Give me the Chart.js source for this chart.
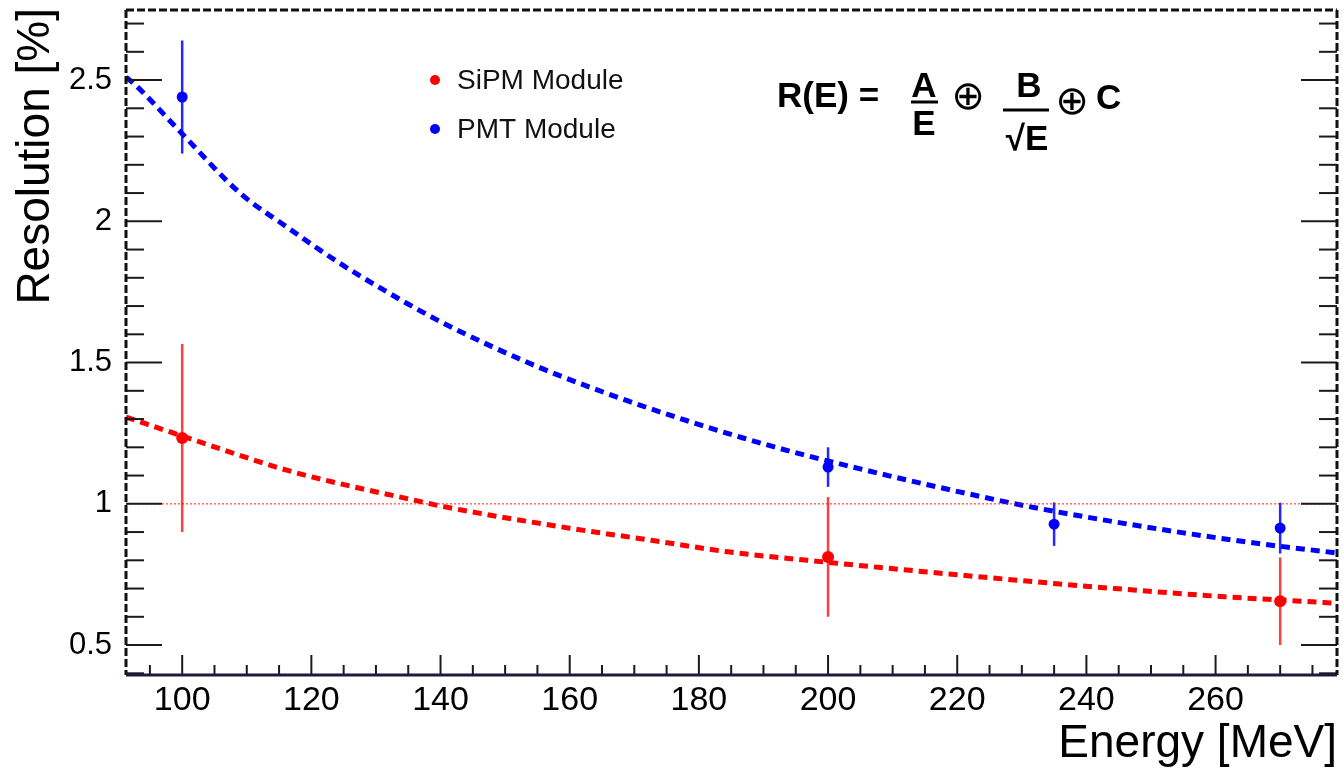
<!DOCTYPE html>
<html>
<head>
<meta charset="utf-8">
<script src="https://cdn.jsdelivr.net/npm/chart.js@4.4.1/dist/chart.umd.min.js"></script>
<style>
  html, body { margin: 0; padding: 0; background: #fff; }
</style>
</head>
<body>
<canvas id="resChart" width="1343" height="772"></canvas>
<script>
// measured points (energy in MeV, resolution in %)
const sipmE = [100, 200, 270];
const sipmRes = [1.233, 0.812, 0.655];
const sipmErr = [0.333, 0.212, 0.155];

const pmtE = [100, 200, 235, 270];
const pmtRes = [2.44, 1.13, 0.928, 0.914];
const pmtErr = [0.2, 0.07, 0.077, 0.09];

// fit curves
const sipmFitE = [91.3, 100, 116.2, 126.0, 135.9, 140.5, 160.2, 172.6, 184.5, 196.8, 227.6, 243.9, 261.4, 276.7, 278.8];
const sipmFitR = [1.307, 1.24, 1.119, 1.063, 1.013, 0.99, 0.913, 0.871, 0.830, 0.80, 0.733, 0.701, 0.671, 0.651, 0.648];

const pmtFitE = [91.3, 92.5, 99.7, 109.0, 116.0, 124.3, 130.6, 139.3, 148.2, 157.3, 168.9, 178.2, 187.0, 196.3, 227.9, 240.3, 254.8, 267.1, 278.8];
const pmtFitR = [2.51, 2.488, 2.317, 2.099, 1.983, 1.853, 1.765, 1.653, 1.554, 1.464, 1.365, 1.294, 1.232, 1.173, 1.005, 0.952, 0.898, 0.858, 0.826];

const xTicks = [100, 120, 140, 160, 180, 200, 220, 240, 260];
const yTicks = [0.5, 1, 1.5, 2, 2.5];
const xRange = [91.3, 278.8];
const yRange = [0.394, 2.748];
const refLevel = 1;

const seriesNames = ['SiPM Module', 'PMT Module'];
const xTitle = 'Energy [MeV]';
const yTitle = 'Resolution [%]';
const RED = '#ff0000';
const BLUE = '#0000ff';
const FONT = '"Liberation Sans", Arial, sans-serif';

function toXY(xs, ys) {
  return xs.map((v, i) => ({ x: v, y: ys[i] }));
}

function line(ctx, x1, y1, x2, y2) {
  ctx.beginPath();
  ctx.moveTo(x1, y1);
  ctx.lineTo(x2, y2);
  ctx.stroke();
}

// keep the plot frame where the reference has it
function noLabelPadding(s) {
  s.paddingTop = 0;
  s.paddingBottom = 0;
  s.paddingLeft = 0;
  s.paddingRight = 0;
}

// error bars under the markers
const errorBars = {
  id: 'errorBars',
  beforeDatasetsDraw(chart) {
    const { ctx, scales: { x, y } } = chart;
    ctx.save();
    ctx.lineWidth = 2.5;
    ctx.strokeStyle = 'rgba(255,0,0,0.75)';
    sipmE.forEach((e, i) => {
      const px = x.getPixelForValue(e);
      line(ctx, px, y.getPixelForValue(sipmRes[i] + sipmErr[i]), px, y.getPixelForValue(sipmRes[i] - sipmErr[i]));
    });
    ctx.strokeStyle = 'rgba(0,0,255,0.85)';
    pmtE.forEach((e, i) => {
      const px = x.getPixelForValue(e);
      line(ctx, px, y.getPixelForValue(pmtRes[i] + pmtErr[i]), px, y.getPixelForValue(pmtRes[i] - pmtErr[i]));
    });
    ctx.restore();
  }
};

// ROOT style frame, inward ticks, titles, legend and formula
const decorations = {
  id: 'decorations',
  afterDraw(chart) {
    const { ctx, chartArea: a, scales: { x, y } } = chart;
    ctx.save();

    // ticks
    ctx.strokeStyle = '#1a1a1a';
    ctx.lineWidth = 2;
    for (let i = 4; i <= 27; i++) {
      const py = y.getPixelForValue(i / 10);
      if (py < a.top || py > a.bottom) continue;
      const len = i % 5 === 0 ? 36 : 18;
      line(ctx, a.left, py, a.left + len, py);
      line(ctx, a.right, py, a.right - len, py);
    }
    for (let v = 95; v <= 275; v += 5) {
      const px = x.getPixelForValue(v);
      line(ctx, px, a.bottom, px, a.bottom - (v % 20 === 0 ? 20 : 10));
    }

    // frame
    ctx.lineWidth = 3;
    ctx.strokeStyle = '#111';
    ctx.setLineDash([8, 3]);
    line(ctx, a.left, a.top, a.right, a.top);
    line(ctx, a.left, a.top, a.left, a.bottom);
    line(ctx, a.right, a.top, a.right, a.bottom);
    ctx.setLineDash([]);
    ctx.strokeStyle = '#1c1c3a';
    line(ctx, a.left, a.bottom, a.right, a.bottom);

    // axis titles
    ctx.fillStyle = '#000';
    ctx.font = '46px ' + FONT;
    ctx.textBaseline = 'alphabetic';
    ctx.textAlign = 'right';
    ctx.fillText(xTitle, a.right, 757);
    ctx.save();
    ctx.translate(49, 8);
    ctx.rotate(-Math.PI / 2);
    ctx.fillText(yTitle, 0, 0);
    ctx.restore();

    // legend
    const items = [[RED, 80], [BLUE, 129]];
    ctx.font = '28px ' + FONT;
    ctx.textAlign = 'left';
    ctx.textBaseline = 'middle';
    items.forEach(([c, ly], i) => {
      ctx.fillStyle = c;
      ctx.beginPath();
      ctx.arc(435, ly, 5, 0, Math.PI * 2);
      ctx.fill();
      ctx.fillStyle = '#111';
      ctx.fillText(seriesNames[i], 457, ly + 1);
    });

    // formula R(E) = A/E (+) B/sqrt(E) (+) C
    ctx.fillStyle = '#000';
    ctx.strokeStyle = '#000';
    ctx.textBaseline = 'alphabetic';
    ctx.font = 'bold 35px ' + FONT;
    ctx.textAlign = 'left';
    ctx.fillText('R(E) =', 777, 107);
    ctx.textAlign = 'center';
    ctx.fillText('A', 924, 97);
    ctx.fillText('E', 924, 135);
    ctx.lineWidth = 3;
    line(ctx, 911, 102, 938, 102);
    ctx.fillText('B', 1029, 97);
    line(ctx, 1003, 110, 1049, 110);
    ctx.fillText('\u221AE', 1027, 150);
    ctx.textAlign = 'left';
    ctx.fillText('C', 1096, 109);
    ctx.font = '40px "DejaVu Sans", sans-serif';
    ctx.textAlign = 'center';
    ctx.textBaseline = 'middle';
    ctx.fillText('\u2295', 968, 99);
    ctx.fillText('\u2295', 1072, 104);

    ctx.restore();
  }
};

new Chart(document.getElementById('resChart'), {
  type: 'scatter',
  data: {
    datasets: [
      {
        label: 'ref',
        data: [{ x: xRange[0], y: refLevel }, { x: xRange[1], y: refLevel }],
        showLine: true,
        borderColor: 'rgba(255,0,0,0.6)',
        borderWidth: 1.5,
        borderDash: [2, 2],
        pointRadius: 0
      },
      {
        label: 'SiPM fit',
        data: toXY(sipmFitE, sipmFitR),
        showLine: true,
        cubicInterpolationMode: 'monotone',
        borderColor: RED,
        borderWidth: 5,
        borderDash: [9, 6],
        pointRadius: 0
      },
      {
        label: 'PMT fit',
        data: toXY(pmtFitE, pmtFitR),
        showLine: true,
        cubicInterpolationMode: 'monotone',
        borderColor: BLUE,
        borderWidth: 5,
        borderDash: [9, 6],
        pointRadius: 0
      },
      {
        label: seriesNames[0],
        data: toXY(sipmE, sipmRes),
        backgroundColor: RED,
        borderWidth: 0,
        pointRadius: 6
      },
      {
        label: seriesNames[1],
        data: toXY(pmtE, pmtRes),
        backgroundColor: BLUE,
        borderWidth: 0,
        pointRadius: 5.5
      }
    ]
  },
  options: {
    responsive: false,
    animation: false,
    layout: { padding: { top: 10, right: 6, left: 0, bottom: 0 } },
    plugins: { legend: { display: false }, tooltip: { enabled: false } },
    scales: {
      x: {
        type: 'linear',
        min: xRange[0],
        max: xRange[1],
        grid: { display: false, drawTicks: false },
        border: { display: false },
        afterBuildTicks: s => { s.ticks = xTicks.map(v => ({ value: v })); },
        afterFit: s => { s.height = 97; noLabelPadding(s); },
        ticks: {
          padding: 5,
          color: '#000',
          maxRotation: 0,
          font: { family: FONT, size: 34 },
          callback: v => String(v)
        }
      },
      y: {
        type: 'linear',
        min: yRange[0],
        max: yRange[1],
        grid: { display: false, drawTicks: false },
        border: { display: false },
        afterBuildTicks: s => { s.ticks = yTicks.map(v => ({ value: v })); },
        afterFit: s => { s.width = 126; noLabelPadding(s); },
        ticks: {
          padding: 14,
          color: '#000',
          font: { family: FONT, size: 31 },
          callback: v => String(v)
        }
      }
    }
  },
  plugins: [errorBars, decorations]
});
</script>
</body>
</html>
